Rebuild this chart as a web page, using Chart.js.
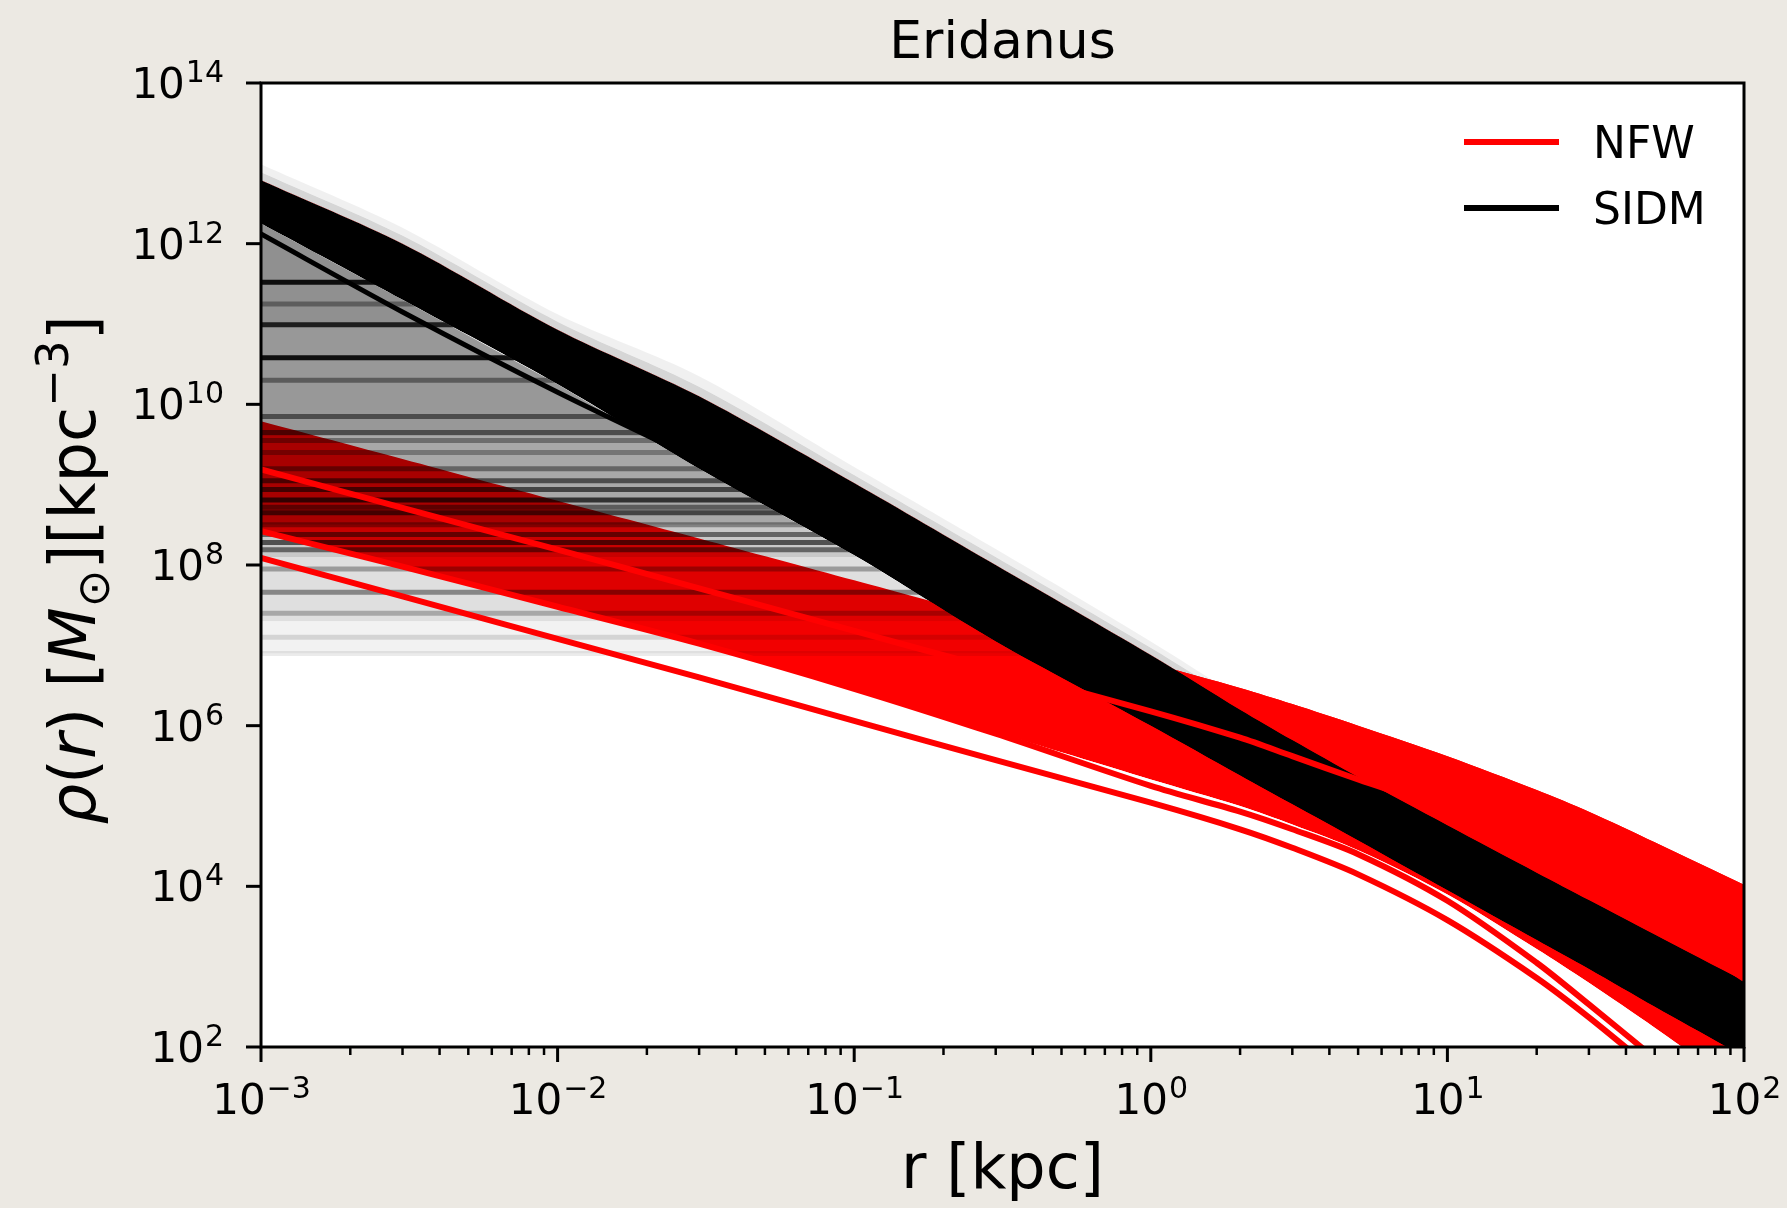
<!DOCTYPE html>
<html>
<head>
<meta charset="utf-8">
<title>Eridanus density profiles</title>
<script src="https://cdn.jsdelivr.net/npm/chart.js@4.4.1/dist/chart.umd.min.js"></script>
<style>
  html, body { margin: 0; padding: 0; background: #ece9e3; }
  #wrap { width: 1787px; height: 1208px; }
</style>
</head>
<body>
<div id="wrap"><canvas id="densityChart" width="1787" height="1208"></canvas></div>
<script>
// radii every profile is sampled at [kpc]
const radii = [0.001, 0.003, 0.01, 0.03, 0.1, 0.3, 1, 2, 3, 5, 10, 20, 30, 50, 100];

// NFW ensemble: envelope of the bulk and a few stray profiles [Msun kpc^-3]
const nfwUpper     = [6.17e9, 2.09e9, 6.31e8, 2.14e8, 6.46e7, 2.14e7, 6.03e6, 2.95e6, 1.86e6, 1.0e6, 4.17e5, 1.58e5, 8.51e4, 3.55e4, 1.05e4];
const nfwLower     = [2.75e8, 1.0e8, 3.16e7, 1.10e7, 3.02e6, 8.32e5, 2.14e5, 1.0e5, 5.89e4, 2.82e4, 7.94e3, 1.66e3, 6.31e2, 1.74e2, 28.2];
const nfwBright    = [1.55e9, 5.13e8, 1.55e8, 5.13e7, 1.51e7, 5.01e6, 1.51e6, 7.08e5, 4.17e5, 2.14e5, 8.91e4, 2.82e4, 1.26e4, 3.98e3, 7.08e2];
const nfwLowest    = [1.23e8, 4.07e7, 1.20e7, 3.98e6, 1.15e6, 3.72e5, 1.10e5, 5.13e4, 3.02e4, 1.41e4, 3.80e3, 7.24e2, 2.34e2, 50.1, 6.31];
const nfwLowSecond = [2.63e8, 9.55e7, 3.02e7, 1.05e7, 2.88e6, 7.94e5, 1.78e5, 8.51e4, 5.13e4, 2.51e4, 6.61e3, 1.12e3, 3.39e2, 72.4, 8.91];

// SIDM ensemble: dense band, its faint halo (outer and inner edge), one cuspy profile
const sidmUpper      = [6.17e12, 1.0e12, 8.51e10, 1.26e10, 1.05e9, 1.0e8, 7.59e6, 1.58e6, 6.61e5, 2.29e5, 5.75e4, 1.48e4, 6.76e3, 2.51e3, 6.61e2];
const sidmLower      = [1.78e12, 2.0e11, 1.78e10, 1.58e9, 1.32e8, 1.12e7, 1.0e6, 2.40e5, 1.05e5, 3.72e4, 8.91e3, 2.14e3, 9.33e2, 3.16e2, 75.9];
const sidmHalo       = [9.77e12, 1.58e12, 1.32e11, 2.24e10, 1.66e9, 1.58e8, 1.12e7, 2.24e6, 8.91e5, 3.16e5, 7.94e4, 2.0e4, 8.91e3, 3.16e3, 8.32e2];
const sidmHaloInner  = [7.76e12, 1.26e12, 1.07e11, 1.66e10, 1.32e9, 1.26e8, 9.33e6, 1.91e6, 7.94e5, 2.75e5, 6.92e4, 1.78e4, 7.94e3, 2.88e3, 7.59e2];
const sidmCuspR = [0.001, 0.003, 0.01, 0.03];
const sidmCusp  = [1.32e12, 1.41e11, 1.41e10, 2.0e9];

// SIDM cored profiles: flat core density and the radius where they sink into the band
const coreDensity = [3.31e11, 1.78e11, 9.77e10, 3.80e10, 2.0e10, 7.08e9, 4.47e9, 3.55e9, 2.51e9, 1.58e9, 1.12e9, 8.71e8, 6.46e8, 5.25e8, 4.47e8, 3.16e8, 2.40e8, 1.91e8, 1.55e8, 8.91e7, 4.57e7, 2.51e7, 1.26e7, 7.94e6];
const coreEnd     = [3.0e-3, 4.1e-3, 5.5e-3, 8.9e-3, 0.0123, 0.0198, 0.0243, 0.027, 0.0316, 0.039, 0.046, 0.052, 0.060, 0.067, 0.072, 0.085, 0.097, 0.109, 0.120, 0.155, 0.21, 0.27, 0.37, 0.46];
// lower bounds of the grey shading left by the many cores
const coreFloors  = [1.0e11, 4.0e9, 3.16e8, 1.26e8, 2.0e7, 7.94e6];

// axis ticks (powers of ten)
const xDecades = [-3, -2, -1, 0, 1, 2];
const yDecades = [2, 4, 6, 8, 10, 12, 14];

/*** ===========================
 *  STYLE
 *  =========================== ***/
const RED = '#ff0000';
const NONE = 'rgba(0,0,0,0)';
const FONT = '"DejaVu Sans"';
const coreAlpha  = [0.9, 0.35, 0.8, 0.9, 0.4, 0.5, 0.5, 0.35, 0.3, 0.4, 0.55, 0.6, 0.7, 0.45, 0.6, 0.35, 0.5, 0.6, 0.5, 0.3, 0.4, 0.25, 0.12, 0.08];
const floorAlpha = [0.05, 0.1, 0.15, 0.1, 0.08, 0.05];

const pts = (xs, ys) => xs.map((x, i) => ({ x: x, y: ys[i] }));

function edge(data) {
    return { data: data, borderWidth: 0, borderColor: NONE, pointRadius: 0, fill: false, tension: 0.3, clip: 0 };
}
function band(data, target, color) {
    return { data: data, borderWidth: 0, borderColor: NONE, pointRadius: 0, tension: 0.3, clip: 0,
             fill: { target: target, above: color, below: NONE } };
}
function curve(data, color, width) {
    return { data: data, borderColor: color, borderWidth: width, pointRadius: 0, fill: false, tension: 0.3, clip: 0 };
}

// build datasets in drawing order (first = bottom)
const layers = [];
layers.push(band(pts(radii, nfwUpper), 1, RED));              // 0
layers.push(edge(pts(radii, nfwLower)));                       // 1
coreFloors.forEach((v, i) => {
    // only the stretch of the band edge that lies above this floor
    const k = sidmLower.findIndex(y => y < v);
    const d = band(pts(radii.slice(0, k + 1), sidmLower.slice(0, k + 1)), { value: v }, 'rgba(0,0,0,' + floorAlpha[i] + ')');
    d.tension = 0;
    layers.push(d);
});
coreDensity.forEach((v, i) => {
    const d = curve([{ x: 0.001, y: v }, { x: coreEnd[i], y: v }], 'rgba(0,0,0,' + coreAlpha[i] + ')', 5);
    d.tension = 0;
    layers.push(d);
});
layers.push(curve(pts(radii, nfwLowSecond), RED, 6));
layers.push(curve(pts(radii, nfwLowest), RED, 6));
const haloInnerIdx = layers.length + 1;
const sidmUpperIdx = layers.length + 2;
const sidmLowerIdx = layers.length + 3;
layers.push(band(pts(radii, sidmHalo), haloInnerIdx, 'rgba(0,0,0,0.06)'));
layers.push(band(pts(radii, sidmHaloInner), sidmUpperIdx, 'rgba(0,0,0,0.16)'));
layers.push(band(pts(radii, sidmUpper), sidmLowerIdx, '#000000'));
layers.push(edge(pts(radii, sidmLower)));
layers.push(curve(pts(sidmCuspR, sidmCusp), '#000000', 5));
layers.push(band(pts(radii, nfwUpper), sidmUpperIdx, RED));
layers.push(curve(pts(radii, nfwBright), RED, 6));
layers.forEach((d, i) => { d.order = layers.length - i; });

/*** ===========================
 *  FRAME, TICKS, TEXT
 *  =========================== ***/
function drawPower(ctx, exp, x, baseline, align) {
    const sup = exp < 0 ? '\u2212' + (-exp) : String(exp);
    ctx.font = '42px ' + FONT;
    const wb = ctx.measureText('10').width;
    ctx.font = '30px ' + FONT;
    const ws = ctx.measureText(sup).width;
    const left = align === 'center' ? x - (wb + ws) / 2 : x - (wb + ws);
    ctx.font = '42px ' + FONT;
    ctx.fillText('10', left, baseline);
    ctx.font = '30px ' + FONT;
    ctx.fillText(sup, left + wb + 1, baseline - 16);
}

function drawRun(ctx, parts, size) {
    const fontOf = p => (p[1] ? p[1] + ' ' : '') + Math.round(size * p[2]) + 'px ' + FONT;
    let total = 0;
    parts.forEach(p => { ctx.font = fontOf(p); total += ctx.measureText(p[0]).width; });
    let cx = -total / 2;
    parts.forEach(p => {
        ctx.font = fontOf(p);
        ctx.fillText(p[0], cx, p[3] * size);
        cx += ctx.measureText(p[0]).width;
    });
}

const yLabelParts = [
    ['\u03c1', 'italic', 1, 0], ['(', '', 1, 0], ['r', 'italic', 1, 0], [') [', '', 1, 0],
    ['M', 'italic', 1, 0], ['\u2299', '', 0.7, 0.22], ['][kpc', '', 1, 0],
    ['\u22123', '', 0.7, -0.42], [']', '', 1, 0]
];

const paperFrame = {
    id: 'paperFrame',
    beforeDraw(chart) {
        const { ctx, chartArea: a } = chart;
        ctx.save();
        ctx.fillStyle = '#ece9e3';
        ctx.fillRect(0, 0, chart.width, chart.height);
        ctx.fillStyle = '#ffffff';
        ctx.fillRect(a.left, a.top, a.right - a.left, a.bottom - a.top);
        ctx.restore();
    },
    afterDraw(chart) {
        const { ctx, chartArea: a } = chart;
        const xs = chart.scales.x, ys = chart.scales.y;
        ctx.save();
        ctx.strokeStyle = '#000';
        ctx.fillStyle = '#000';

        // x ticks, major and minor
        ctx.lineWidth = 3;
        xDecades.forEach(e => {
            const px = xs.getPixelForValue(Math.pow(10, e));
            ctx.beginPath(); ctx.moveTo(px, a.bottom); ctx.lineTo(px, a.bottom + 15); ctx.stroke();
        });
        ctx.lineWidth = 2.5;
        xDecades.slice(0, -1).forEach(e => {
            for (let m = 2; m <= 9; m++) {
                const px = xs.getPixelForValue(m * Math.pow(10, e));
                ctx.beginPath(); ctx.moveTo(px, a.bottom); ctx.lineTo(px, a.bottom + 8); ctx.stroke();
            }
        });
        // y ticks
        ctx.lineWidth = 3;
        yDecades.forEach(e => {
            const py = ys.getPixelForValue(Math.pow(10, e));
            ctx.beginPath(); ctx.moveTo(a.left - 15, py); ctx.lineTo(a.left, py); ctx.stroke();
        });

        // frame
        ctx.lineWidth = 3;
        ctx.strokeRect(a.left, a.top, a.right - a.left, a.bottom - a.top);

        // tick labels
        ctx.textAlign = 'left';
        ctx.textBaseline = 'alphabetic';
        xDecades.forEach(e => drawPower(ctx, e, xs.getPixelForValue(Math.pow(10, e)), 1114, 'center'));
        yDecades.forEach(e => drawPower(ctx, e, 223, ys.getPixelForValue(Math.pow(10, e)) + 15, 'right'));

        // title and axis labels
        const cx = (a.left + a.right) / 2;
        ctx.textAlign = 'center';
        ctx.font = '52px ' + FONT;
        ctx.fillText('Eridanus', cx, 58);
        ctx.font = '62px ' + FONT;
        ctx.fillText('r [kpc]', cx, 1188);

        ctx.save();
        ctx.translate(95, 570);
        ctx.rotate(-Math.PI / 2);
        ctx.textAlign = 'left';
        drawRun(ctx, yLabelParts, 64);
        ctx.restore();

        // legend
        ctx.lineWidth = 6;
        ctx.strokeStyle = RED;
        ctx.beginPath(); ctx.moveTo(1464, 142); ctx.lineTo(1559, 142); ctx.stroke();
        ctx.strokeStyle = '#000';
        ctx.beginPath(); ctx.moveTo(1464, 208); ctx.lineTo(1559, 208); ctx.stroke();
        ctx.textAlign = 'left';
        ctx.font = '44px ' + FONT;
        ctx.fillText('NFW', 1593, 158);
        ctx.fillText('SIDM', 1593, 224);
        ctx.restore();
    }
};

document.addEventListener('DOMContentLoaded', function () {
    const ctx = document.getElementById('densityChart').getContext('2d');
    new Chart(ctx, {
        type: 'line',
        data: { datasets: layers },
        options: {
            responsive: false,
            animation: false,
            events: [],
            layout: { padding: { top: 83, right: 43, left: 0, bottom: 0 } },
            plugins: { legend: { display: false }, tooltip: { enabled: false } },
            scales: {
                x: {
                    type: 'logarithmic', min: 1e-3, max: 1e2,
                    ticks: { display: false }, grid: { display: false }, border: { display: false },
                    afterFit: s => { s.height = 161; }
                },
                y: {
                    type: 'logarithmic', min: 1e2, max: 1e14,
                    ticks: { display: false }, grid: { display: false }, border: { display: false },
                    afterFit: s => { s.width = 261; }
                }
            }
        },
        plugins: [paperFrame]
    });
});
</script>
</body>
</html>
